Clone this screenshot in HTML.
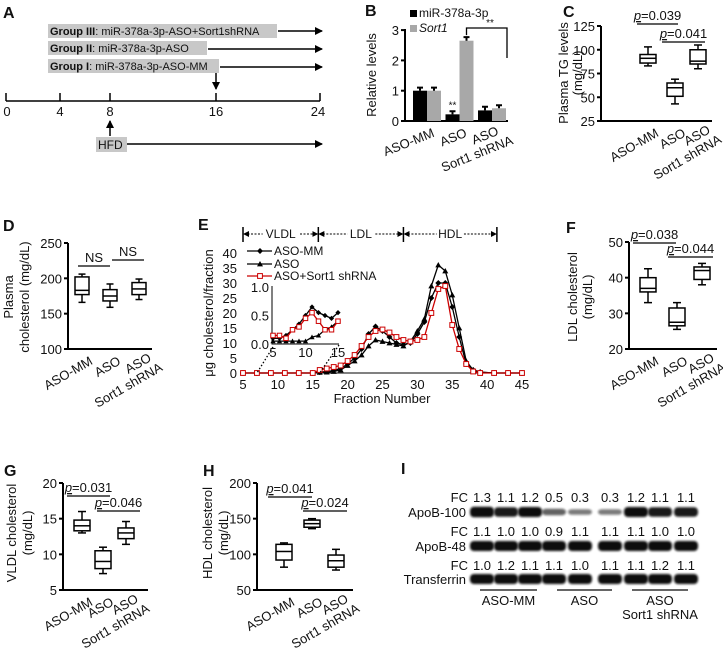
<!DOCTYPE html>
<html><head><meta charset="utf-8">
<style>
html,body{margin:0;padding:0;background:#fff;}
svg{display:block;font-family:"Liberation Sans",Arial,sans-serif;}
text{fill:#111;}
</style></head>
<body>
<svg id="fig" width="723" height="650" viewBox="0 0 723 650" xmlns="http://www.w3.org/2000/svg">
<defs>
<marker id="ah" markerWidth="8" markerHeight="8" refX="7" refY="4" orient="auto" markerUnits="userSpaceOnUse"><path d="M0,0 L8,4 L0,8 z" fill="#000"/></marker>
<marker id="ahs" markerWidth="6" markerHeight="6" refX="5" refY="3" orient="auto-start-reverse" markerUnits="userSpaceOnUse"><path d="M0,0 L6,3 L0,6 z" fill="#000"/></marker>
<filter id="blur" x="-10%" y="-50%" width="120%" height="200%"><feGaussianBlur stdDeviation="1.1"/></filter>
</defs>

<!-- Panel A -->
<g>
<text x="3" y="18" font-size="16" font-weight="bold">A</text>
<rect x="48" y="24" width="229" height="14" fill="#c8c8c8"/>
<text x="50" y="35" font-size="11"><tspan font-weight="bold">Group III</tspan>: miR-378a-3p-ASO+Sort1shRNA</text>
<line x1="278" y1="31" x2="322" y2="31" stroke="#000" stroke-width="1.5" marker-end="url(#ah)"/>
<rect x="48" y="41" width="159" height="14" fill="#c8c8c8"/>
<text x="50" y="52" font-size="11"><tspan font-weight="bold">Group II</tspan>: miR-378a-3p-ASO</text>
<line x1="208" y1="49" x2="322" y2="49" stroke="#000" stroke-width="1.5" marker-end="url(#ah)"/>
<rect x="48" y="59" width="171" height="14" fill="#c8c8c8"/>
<text x="50" y="70" font-size="11"><tspan font-weight="bold">Group I</tspan>: miR-378a-3p-ASO-MM</text>
<line x1="220" y1="67" x2="322" y2="67" stroke="#000" stroke-width="1.5" marker-end="url(#ah)"/>
<line x1="216" y1="73" x2="216" y2="89" stroke="#000" stroke-width="1.5" marker-end="url(#ah)"/>
<line x1="6" y1="101" x2="320" y2="101" stroke="#000" stroke-width="1.5"/>
<g stroke="#000" stroke-width="1.5">
<line x1="6" y1="93" x2="6" y2="101"/><line x1="60" y1="93" x2="60" y2="101"/><line x1="110" y1="93" x2="110" y2="101"/><line x1="216" y1="93" x2="216" y2="101"/><line x1="320" y1="93" x2="320" y2="101"/>
</g>
<g font-size="13" text-anchor="middle">
<text x="7" y="116">0</text><text x="60" y="116">4</text><text x="110" y="116">8</text><text x="216" y="116">16</text><text x="318" y="116">24</text>
</g>
<line x1="110" y1="136" x2="110" y2="121" stroke="#000" stroke-width="1.5" marker-end="url(#ah)"/>
<rect x="96" y="137" width="31" height="15" fill="#c8c8c8"/>
<text x="98" y="149" font-size="12">HFD</text>
<line x1="127" y1="144" x2="322" y2="144" stroke="#000" stroke-width="1.5" marker-end="url(#ah)"/>
</g>

<text x="365" y="16" font-size="16" font-weight="bold">B</text>
<text x="563" y="17" font-size="16" font-weight="bold">C</text>
<text x="3" y="231" font-size="16" font-weight="bold">D</text>
<text x="198" y="230" font-size="16" font-weight="bold">E</text>
<text x="566" y="233" font-size="16" font-weight="bold">F</text>
<text x="4" y="476" font-size="16" font-weight="bold">G</text>
<text x="203" y="476" font-size="16" font-weight="bold">H</text>
<text x="401" y="474" font-size="16" font-weight="bold">I</text>

<g id="gB"></g>
<g id="gC"></g>
<g id="gD"></g>
<g id="gE"></g>
<g id="gF"></g>
<g id="gG"></g>
<g id="gH"></g>
<g id="gI"></g>
</svg>

<script>
// ---------- Data ----------
const groups = ["ASO-MM", "ASO", "ASO Sort1 shRNA"];
// Panel B
const bMir = [1.0, 0.22, 0.35];
const bMirErr = [0.1, 0.1, 0.12];
const bSort1 = [1.0, 2.65, 0.42];
const bSort1Err = [0.1, 0.12, 0.1];
const bTicks = [0, 1, 2, 3];
// Box stats: [min, q1, median, q3, max]
const cBoxes = [[83, 86, 91, 95, 103], [43, 51, 60, 65, 69], [80, 85, 88, 100, 105]];
const cTicks = [25, 50, 75, 100, 125];
const dBoxes = [[166, 177, 183, 202, 206], [159, 168, 175, 184, 192], [170, 177, 185, 194, 199]];
const dTicks = [100, 150, 200, 250];
const fBoxes = [[33, 36, 37, 40, 42.5], [25.5, 26.5, 27.5, 31.5, 33], [38, 39.5, 42, 43, 44]];
const fTicks = [20, 30, 40, 50];
const gBoxes = [[13, 13.3, 14, 14.8, 16], [7.3, 8, 9, 10.5, 11], [11.4, 12.2, 13, 13.7, 14.6]];
const gTicks = [5, 10, 15, 20];
const hBoxes = [[82, 92, 104, 114, 116], [136, 138, 143, 148, 150], [78, 82, 91, 99, 107]];
const hTicks = [50, 100, 150, 200];
// Panel E
const eFractions = [5,7,9,11,13,15,16,17,18,19,20,21,22,23,24,25,26,27,28,29,30,31,32,33,34,35,36,37,38,39,41,43,45];
const eAsoMM = [0,0,0,0,0,0,0.3,0.5,0.8,1.5,3,5,8,13,15.5,14,12,10,9.5,10,13,17,25,30,30,22,12,3,1,0.3,0,0,0];
const eAso =   [0,0,0,0,0,0,0.2,0.3,0.5,1,2.5,4,6,9,11,10.5,10,9.5,9,10.5,14,18,29,36,34,26,15,4,1,0.3,0,0,0];
const eShRNA = [0,0,0,0,0,0,1,1.5,2,2.5,4,6,9,12,14,14.5,13.5,12,11,10.5,11,12,20,28,29,16,8,3,0.5,0,0,0,0];
const eTicksY = [0,5,10,15,20,25,30,35,40];
const eTicksX = [5,10,15,20,25,30,35,40,45];
const insetFractions = [5,6,7,8,9,10,11,12,13,14,15];
const insetAsoMM = [0.1,0.1,0.15,0.25,0.35,0.5,0.65,0.55,0.5,0.45,0.55];
const insetAso =   [0.05,0.05,0.05,0.05,0.05,0.05,0.12,0.15,0.25,0.3,0.4];
const insetShRNA = [0.15,0.15,0.1,0.25,0.3,0.45,0.55,0.4,0.25,0.25,0.4];
// Panel I
const fcApoB100 = ["1.3","1.1","1.2","0.5","0.3","0.3","1.2","1.1","1.1"];
const fcApoB48 = ["1.1","1.0","1.0","0.9","1.1","1.1","1.1","1.0","1.0"];
const fcTransferrin = ["1.0","1.2","1.1","1.1","1.0","1.1","1.1","1.2","1.1"];
const bandApoB100 = [1.3,1.1,1.2,0.5,0.3,0.3,1.2,1.1,1.1];

// ---------- Helpers ----------
const NS = "http://www.w3.org/2000/svg";
function mk(tag, attrs, parent) {
  const e = document.createElementNS(NS, tag);
  for (const k in attrs) e.setAttribute(k, attrs[k]);
  parent.appendChild(e);
  return e;
}
function txt(s, attrs, parent) { const t = mk("text", attrs, parent); t.textContent = s; return t; }

function yAxis(g, x, y0, y1, ticks, scale, name) {
  const a = mk("line", {x1:x, y1:y0, x2:x, y2:y1, stroke:"#000", "stroke-width":2}, g);
  
  
  ticks.forEach(v => {
    const t = mk("line", {x1:x-4, y1:scale(v), x2:x, y2:scale(v), stroke:"#000", "stroke-width":2}, g);
    
    
    const l = txt(String(v), {x:x-6, y:scale(v)+5, "font-size":13, "text-anchor":"end"}, g);
    
    
  });
}
function xAxis(g, x0, x1, y, name) {
  const a = mk("line", {x1:x0, y1:y, x2:x1, y2:y, stroke:"#000", "stroke-width":2}, g);
  
  
}
function yTitle(g, lines, xs, cy, name) {
  lines.forEach((s, i) => {
    const t = txt(s, {x:0, y:0, "font-size":13, "text-anchor":"middle", transform:`translate(${xs[i]},${cy}) rotate(-90)`}, g);
    
    
  });
}
function catLabels(g, centers, axisY, name, angle, dx) {
  groups.forEach((s, i) => {
    const gg = mk("g", {transform:`translate(${centers[i]+dx},${axisY+5}) rotate(${angle})`}, g);
    
    
    if (i < 2) {
      txt(s, {x:0, y:11, "font-size":13, "text-anchor":"end"}, gg);
    } else {
      txt("ASO", {x:3, y:9, "font-size":13, "text-anchor":"end"}, gg);
      txt("Sort1 shRNA", {x:8, y:23, "font-size":13, "text-anchor":"end"}, gg);
    }
  });
}
function boxPlot(g, cx, w, s, scale, name) {
  const [mn, q1, md, q3, mx] = s;
  const wl = mk("line", {x1:cx, y1:scale(mx), x2:cx, y2:scale(q3), stroke:"#000", "stroke-width":1.5}, g);
  
  
  const wl2 = mk("line", {x1:cx, y1:scale(q1), x2:cx, y2:scale(mn), stroke:"#000", "stroke-width":1.5}, g);
  
  
  const c1 = mk("line", {x1:cx-w/4, y1:scale(mx), x2:cx+w/4, y2:scale(mx), stroke:"#000", "stroke-width":1.5}, g);
  
  
  const c2 = mk("line", {x1:cx-w/4, y1:scale(mn), x2:cx+w/4, y2:scale(mn), stroke:"#000", "stroke-width":1.5}, g);
  
  
  const r = mk("rect", {x:cx-w/2, y:scale(q3), width:w, height:scale(q1)-scale(q3), fill:"#fff", stroke:"#000", "stroke-width":1.5}, g);
  
  
  const m = mk("line", {x1:cx-w/2, y1:scale(md), x2:cx+w/2, y2:scale(md), stroke:"#000", "stroke-width":1.5}, g);
  
  
}
function sigLine(g, x0, x1, y, label, name, italicP) {
  const l = mk("line", {x1:x0, y1:y, x2:x1, y2:y, stroke:"#000", "stroke-width":1.3}, g);
  
  
  const t = mk("text", {x:(x0+x1)/2, y:y-4, "font-size":13, "text-anchor":"middle"}, g);
  
  
  if (italicP) {
    const a = mk("tspan", {"font-style":"italic", "text-decoration":"underline"}, t); a.textContent = "p";
    const b = mk("tspan", {}, t); b.textContent = "=" + label;
  } else t.textContent = label;
}
function boxPanel(g, name, o) {
  const sc = v => o.y0 - (v - o.vmin) * (o.y0 - o.y1) / (o.vmax - o.vmin);
  yAxis(g, o.ax, o.y0, o.y1, o.ticks, sc, name);
  xAxis(g, o.ax - 1, o.axEnd, o.y0, name);
  o.boxes.forEach((s, i) => boxPlot(g, o.centers[i], o.bw, s, sc, name + '-' + ['aso-mm','aso','aso-shrna'][i]));
  o.sigs.forEach((s, i) => sigLine(g, s[0], s[1], s[2], s[3], name + '-sig-' + (i+1), o.pItalic));
  yTitle(g, o.titles, o.titleX, o.titleY, name);
  catLabels(g, o.centers, o.y0, name, -30, 6);
}

// ---------- Panel B ----------
(function(){
  const g = document.getElementById("gB");
  const y = v => 121 - v * 30.3;
  const cx = i => 427 + i * 32.5;
  const bw = 14;
  yAxis(g, 405, 121, 29, bTicks, y, "b");
  xAxis(g, 404, 508, 121, "b");
  bMir.forEach((v, i) => {
    const r = mk("rect", {x:cx(i)-bw, y:y(v), width:bw, height:y(0)-y(v), fill:"#000"}, g);
    
    
    const e = mk("path", {d:`M${cx(i)-bw/2},${y(v)} V${y(v+bMirErr[i])} M${cx(i)-bw/2-3},${y(v+bMirErr[i])} H${cx(i)-bw/2+3}`, stroke:"#000", "stroke-width":2, fill:"none"}, g);
    
    
  });
  bSort1.forEach((v, i) => {
    const r = mk("rect", {x:cx(i), y:y(v), width:bw, height:y(0)-y(v), fill:"#a8a8a8"}, g);
    
    
    const e = mk("path", {d:`M${cx(i)+bw/2},${y(v)} V${y(v+bSort1Err[i])} M${cx(i)+bw/2-3},${y(v+bSort1Err[i])} H${cx(i)+bw/2+3}`, stroke:"#000", "stroke-width":2, fill:"none"}, g);
    
    
  });
  const s1 = txt("**", {x:cx(1)-bw/2, y:y(bMir[1]+bMirErr[1])-3, "font-size":10, "text-anchor":"middle"}, g);
  
  
  const br = mk("path", {d:`M${cx(1)+bw/2},${y(bSort1[1]+bSort1Err[1])-2} V28 H507 V58`, stroke:"#000", "stroke-width":1.3, fill:"none"}, g);
  
  
  const s2 = txt("**", {x:490, y:26, "font-size":10, "text-anchor":"middle"}, g);
  
  
  const l1 = mk("rect", {x:410, y:10, width:7, height:7, fill:"#000"}, g);
  
  
  const t1 = txt("miR-378a-3p", {x:419, y:17, "font-size":12}, g);
  
  
  const l2 = mk("rect", {x:410, y:25, width:7, height:7, fill:"#a8a8a8"}, g);
  
  
  const t2 = txt("Sort1", {x:419, y:32, "font-size":12, "font-style":"italic"}, g);
  
  
  yTitle(g, ["Relative levels"], [376], 75, "b");
  groups.forEach((s, i) => {
    const gg = mk("g", {transform:`translate(${cx(i)+4},${126}) rotate(-22)`}, g);
    
    
    if (i < 2) txt(s, {x:0, y:11, "font-size":13, "text-anchor":"end"}, gg);
    else { txt("ASO", {x:0, y:9, "font-size":13, "text-anchor":"end"}, gg); txt("Sort1 shRNA", {x:10, y:23, "font-size":13, "text-anchor":"end"}, gg); }
  });
})();

// ---------- Box panels ----------
boxPanel(document.getElementById("gC"), "c", {ax:601, axEnd:712, y0:121, y1:26, vmin:25, vmax:125, ticks:cTicks, boxes:cBoxes,
  centers:[648,675,698], bw:16, sigs:[[637,678,24,"0.039"],[662,705,42,"0.041"]], pItalic:true,
  titles:["Plasma TG levels","(mg/dL)"], titleX:[568,582], titleY:73});
boxPanel(document.getElementById("gD"), "d", {ax:68, axEnd:152, y0:349, y1:243, vmin:100, vmax:250, ticks:dTicks, boxes:dBoxes,
  centers:[82,110,139], bw:14, sigs:[[78,110,266,"NS"],[112,144,260,"NS"]], pItalic:false,
  titles:["Plasma","cholesterol (mg/dL)"], titleX:[13,29], titleY:297});
boxPanel(document.getElementById("gF"), "f", {ax:629, axEnd:717, y0:349, y1:242, vmin:20, vmax:50, ticks:fTicks, boxes:fBoxes,
  centers:[648,677,702], bw:16, sigs:[[633,676,243,"0.038"],[668,713,257,"0.044"]], pItalic:true,
  titles:["LDL cholesterol","(mg/dL)"], titleX:[577,592], titleY:297});
boxPanel(document.getElementById("gG"), "g", {ax:63, axEnd:148, y0:590, y1:483, vmin:5, vmax:20, ticks:gTicks, boxes:gBoxes,
  centers:[82,103,126], bw:16, sigs:[[67,110,496,"0.031"],[97,140,511,"0.046"]], pItalic:true,
  titles:["VLDL cholesterol","(mg/dL)"], titleX:[16,32], titleY:533});
boxPanel(document.getElementById("gH"), "h", {ax:257, axEnd:353, y0:590, y1:483, vmin:50, vmax:200, ticks:hTicks, boxes:hBoxes,
  centers:[284,312,336], bw:16, sigs:[[268,312,497,"0.041"],[303,347,511,"0.024"]], pItalic:true,
  titles:["HDL cholesterol","(mg/dL)"], titleX:[212,228], titleY:533});

// ---------- Panel E ----------
(function(){
  const g = document.getElementById("gE");
  const x = f => 243 + (f - 5) * 6.975;
  const y = v => 373 - v * 3;
  const xa = mk("line", {x1:240, y1:373, x2:524, y2:373, stroke:"#000", "stroke-width":1}, g);
  
  
  eTicksY.forEach(v => {
    const t = txt(String(v), {x:237, y:y(v)+5, "font-size":13, "text-anchor":"end"}, g);
    
    
  });
  eTicksX.forEach(v => {
    const t = txt(String(v), {x:x(v), y:389, "font-size":13, "text-anchor":"middle"}, g);
    
    
  });
  const xt = txt("Fraction Number", {x:382, y:403, "font-size":13, "text-anchor":"middle"}, g);
  
  
  yTitle(g, ["\u03bcg cholesterol/fraction"], [213], 313, "e");
  const ranges = [["VLDL",5,15.8],["LDL",15.8,28],["HDL",28,41.4]];
  ranges.forEach(r => {
    const a = x(r[1]), b = x(r[2]);
    const l = mk("line", {x1:a+1, y1:234, x2:b-1, y2:234, stroke:"#000", "stroke-width":1, "stroke-dasharray":"2,1.5", "marker-start":"url(#ahs)", "marker-end":"url(#ahs)"}, g);
    
    
    const bg = mk("rect", {x:(a+b)/2-r[0].length*4.5, y:227, width:r[0].length*9, height:12, fill:"#fff"}, g);
    
    
    const t = txt(r[0], {x:(a+b)/2, y:238, "font-size":12, "text-anchor":"middle"}, g);
    
    
  });
  [243, x(15.8), x(28), x(41.4)].forEach(px => {
    const v = mk("line", {x1:px, y1:227, x2:px, y2:242, stroke:"#000", "stroke-width":1.5}, g);
    
    
  });
  function series(xs, ys, xf, yf, color, marker, name, ms) {
    const d = xs.map((f, i) => (i ? "L" : "M") + xf(f) + "," + yf(ys[i])).join(" ");
    const p = mk("path", {d:d, fill:"none", stroke:color, "stroke-width":1.3}, g);
    
    
    xs.forEach((f, i) => {
      const cx = xf(f), cy = yf(ys[i]);
      let m;
      if (marker === "diamond") m = mk("path", {d:`M${cx},${cy-ms} L${cx+ms},${cy} L${cx},${cy+ms} L${cx-ms},${cy} z`, fill:"#000"}, g);
      else if (marker === "triangle") m = mk("path", {d:`M${cx},${cy-ms} L${cx+ms},${cy+ms*0.8} L${cx-ms},${cy+ms*0.8} z`, fill:"#000"}, g);
      else m = mk("rect", {x:cx-ms*0.8, y:cy-ms*0.8, width:ms*1.6, height:ms*1.6, fill:"#fff", stroke:"#c00", "stroke-width":1}, g);
      
      
    });
  }
  series(eFractions, eAso, x, y, "#000", "triangle", "e-aso", 3);
  series(eFractions, eAsoMM, x, y, "#000", "diamond", "e-aso-mm", 3);
  series(eFractions, eShRNA, x, y, "#c00", "square", "e-aso-shrna", 3);
  const leg = [["ASO-MM","#000","diamond",251],["ASO","#000","triangle",264],["ASO+Sort1 shRNA","#c00","square",276]];
  leg.forEach(l => {
    const ln = mk("line", {x1:247, y1:l[3], x2:272, y2:l[3], stroke:l[1], "stroke-width":1.3}, g);
    
    
    const c = 260, cy = l[3], ms = 3;
    let m;
    if (l[2] === "diamond") m = mk("path", {d:`M${c},${cy-ms} L${c+ms},${cy} L${c},${cy+ms} L${c-ms},${cy} z`, fill:"#000"}, g);
    else if (l[2] === "triangle") m = mk("path", {d:`M${c},${cy-ms} L${c+ms},${cy+ms*0.8} L${c-ms},${cy+ms*0.8} z`, fill:"#000"}, g);
    else m = mk("rect", {x:c-2.4, y:cy-2.4, width:4.8, height:4.8, fill:"#fff", stroke:"#c00"}, g);
    
    
    const t = txt(l[0], {x:274, y:l[3]+4, "font-size":12}, g);
    
    
  });
  const xi = f => 273 + (f - 5) * 6.5;
  const yi = v => 344 - v * 57;
  const ibg = mk("rect", {x:268, y:284, width:74, height:62, fill:"#fff"}, g);
  
  
  const ia = mk("path", {d:"M272,286 V344 H339", fill:"none", stroke:"#000", "stroke-width":1}, g);
  
  
  [0, 0.5, 1.0].forEach(v => {
    const t = txt(v.toFixed(1), {x:269, y:yi(v)+5, "font-size":13, "text-anchor":"end"}, g);
    
    
  });
  [5, 10, 15].forEach(v => {
    const t = txt(String(v), {x:xi(v), y:357, "font-size":13, "text-anchor":"middle"}, g);
    
    
  });
  const dz = mk("path", {d:`M273,347 L${x(7)},373 M339,345 L${x(16)},373`, fill:"none", stroke:"#000", "stroke-width":1.3, "stroke-dasharray":"1.5,2"}, g);
  
  
  series(insetFractions, insetAso, xi, yi, "#000", "triangle", "e-inset-aso", 2.6);
  series(insetFractions, insetAsoMM, xi, yi, "#000", "diamond", "e-inset-aso-mm", 2.6);
  series(insetFractions, insetShRNA, xi, yi, "#c00", "square", "e-inset-aso-shrna", 2.8);
})();

// ---------- Panel I ----------
(function(){
  const g = document.getElementById("gI");
  const lanes = [482, 506, 530, 554, 580, 610, 636, 660, 686];
  const rows = [[fcApoB100, 497, "ApoB-100", 512], [fcApoB48, 531, "ApoB-48", 546], [fcTransferrin, 565, "Transferrin", 579]];
  rows.forEach((r, ri) => {
    const fc = txt("FC", {x:468, y:r[1]+5, "font-size":13, "text-anchor":"end"}, g);
    
    
    r[0].forEach((v, i) => {
      const t = txt(v, {x:lanes[i], y:r[1]+5, "font-size":13, "text-anchor":"middle"}, g);
      
      
    });
    const lb = txt(r[2], {x:466, y:r[3]+5, "font-size":13, "text-anchor":"end"}, g);
    
    
    lanes.forEach((lx, i) => {
      let h = 10, op = 1;
      if (ri === 0) { const f = bandApoB100[i]; h = 4 + f * 5; op = 0.4 + f * 0.5; }
      const b = mk("rect", {x:lx-12, y:r[3]-h/2, width:24, height:h, rx:4, fill:"#111", opacity:Math.min(1, op), filter:"url(#blur)"}, g);
      
      
    });
  });
  [[480,537,"ASO-MM"],[557,612,"ASO"],[632,688,"ASO"]].forEach((u, i) => {
    const l = mk("line", {x1:u[0], y1:590, x2:u[1], y2:590, stroke:"#333", "stroke-width":1.5}, g);
    
    
    const t = txt(u[2], {x:(u[0]+u[1])/2, y:605, "font-size":13, "text-anchor":"middle"}, g);
    
    
  });
  const t2 = txt("Sort1 shRNA", {x:660, y:619, "font-size":13, "text-anchor":"middle"}, g);
  
  
})();
</script>
</body></html>
